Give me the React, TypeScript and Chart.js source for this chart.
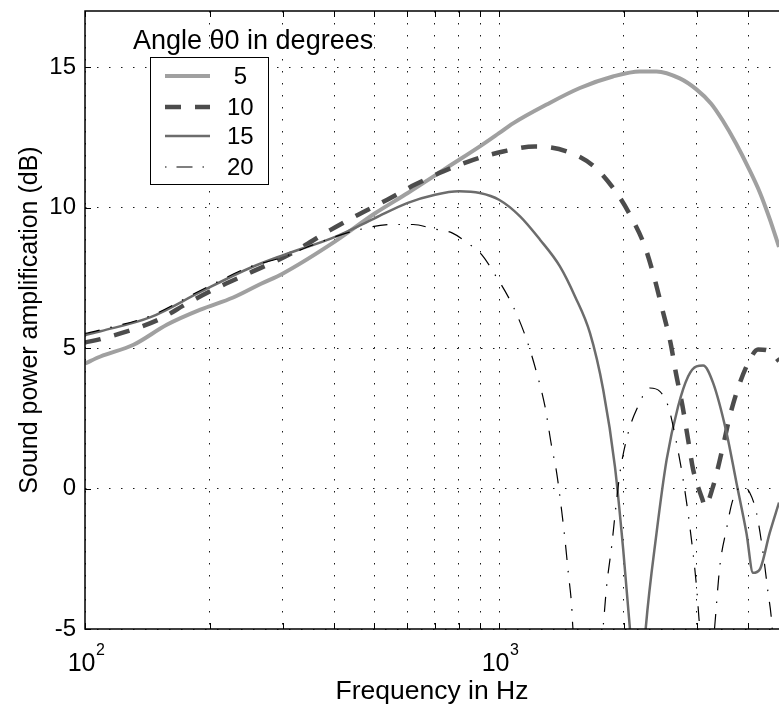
import { useEffect, useRef } from 'react';
import { Chart, registerables } from 'chart.js';

Chart.register(...registerables);

// ---- data ----
const freq5 = [100, 109, 131, 158, 190, 228, 267, 300, 402, 502, 602, 701, 748, 899, 1000, 1081, 1303, 1568, 1884, 2188, 2400, 2733, 3003, 3254, 3470, 3731, 4009, 4263, 4506, 4745];
const db5 = [4.45, 4.7, 5.12, 5.84, 6.37, 6.8, 7.3, 7.65, 8.8, 9.8, 10.52, 11.15, 11.42, 12.18, 12.65, 13.0, 13.67, 14.26, 14.67, 14.85, 14.85, 14.6, 14.2, 13.7, 13.1, 12.3, 11.4, 10.55, 9.6, 8.6];

const freq10 = [100, 109, 150, 177, 209, 251, 313, 391, 457, 537, 627, 733, 866, 1023, 1221, 1459, 1686, 1923, 2090, 2250, 2378, 2469, 2596, 2673, 2775, 2862, 2943, 3100, 3140, 3289, 3446, 3609, 3779, 4017, 4222, 4506, 4745];
const db10 = [5.2, 5.32, 6.0, 6.6, 7.15, 7.69, 8.35, 9.2, 9.75, 10.28, 10.82, 11.29, 11.7, 12.0, 12.18, 12.0, 11.5, 10.53, 9.64, 8.62, 7.44, 6.49, 5.18, 4.13, 2.93, 1.74, 0.68, -0.39, -0.63, 0.08, 1.27, 2.57, 3.58, 4.53, 4.95, 4.89, 4.53];

const freq15 = [100, 109, 144, 190, 251, 300, 402, 502, 602, 701, 801, 899, 1000, 1124, 1256, 1403, 1526, 1658, 1785, 1905, 1995, 2070, 2164, 2262, 2402, 2540, 2708, 2862, 2999, 3111, 3289, 3545, 3746, 3959, 4107, 4263, 4506, 4745];
const db15 = [5.46, 5.6, 6.1, 7.0, 7.86, 8.3, 8.96, 9.63, 10.17, 10.46, 10.58, 10.52, 10.28, 9.69, 8.86, 7.91, 6.84, 5.54, 3.52, 0.79, -2.17, -4.95, -9, -4.95, -1.57, 1.03, 2.93, 3.99, 4.35, 4.38, 3.76, 1.98, 0.2, -1.58, -3.0, -2.88, -1.58, -0.5];

const freq20 = [100, 109, 144, 190, 251, 296, 356, 454, 555, 620, 693, 770, 837, 908, 967, 1081, 1166, 1233, 1291, 1340, 1378, 1417, 1443, 1470, 1498, 1507, 1639, 1785, 1819, 1871, 1916, 1959, 2051, 2149, 2314, 2446, 2562, 2684, 2784, 2889, 2999, 3042, 3176, 3319, 3414, 3541, 3673, 3883, 4033, 4186, 4342, 4465, 4550, 4745];
const db20 = [5.52, 5.65, 6.15, 7.05, 7.9, 8.2, 8.68, 9.2, 9.4, 9.4, 9.25, 9.1, 8.75, 8.33, 7.73, 6.49, 5.3, 4.12, 2.93, 1.5, 0.56, -0.8, -1.81, -3.0, -4.19, -4.9, -10, -4.9, -3.48, -2.05, -0.63, 0.56, 1.98, 2.81, 3.58, 3.46, 2.93, 1.62, 0.32, -1.34, -3.48, -4.66, -8, -4.9, -2.77, -1.46, -0.39, 0.08, -0.15, -0.86, -2.29, -3.71, -4.66, -9];

const seriesNames = [' 5', '10', '15', '20'];
const seriesFreqs = [freq5, freq10, freq15, freq20];
const seriesValues = [db5, db10, db15, db20];

const xTickValues = [100, 200, 300, 400, 500, 600, 700, 800, 900, 1000, 2000, 3000, 4000];
const xLabelValues = [100, 1000];
const xLabelBase = ['10', '10'];
const xLabelExp = ['2', '3'];
const yTickValues = [-5, 0, 5, 10, 15];

const legendTitle = 'Angle θ0 in degrees';
const xTitle = 'Frequency in Hz';
const yTitle = 'Sound power amplification (dB)';

const X_MIN = 100;
const X_MAX = 4745;
const Y_MIN = -5;
const Y_MAX = 17;

// ---- styles ----
const FONT = "'Liberation Sans', Arial, Helvetica, sans-serif";
const styles = [
  { color: '#a0a0a0', width: 4, dash: [] as number[], legendDash: [] as number[] },
  { color: '#4c4c4c', width: 4.5, dash: [16, 14], legendDash: [16, 14] },
  { color: '#6c6c6c', width: 2.5, dash: [] as number[], legendDash: [] as number[] },
  { color: '#000000', width: 1.2, dash: [15, 11, 1.5, 11], legendDash: [1.5, 10, 16, 10] },
];

const framePlugin = {
  id: 'matlabFrame',
  afterDraw(chart: any) {
    const { ctx, chartArea: a } = chart;
    const xs = chart.scales.x;
    const ys = chart.scales.y;
    ctx.save();
    ctx.setLineDash([]);
    ctx.strokeStyle = '#000';
    ctx.lineWidth = 1.5;
    ctx.beginPath();
    ctx.moveTo(a.right + 2, a.top);
    ctx.lineTo(a.left, a.top);
    ctx.lineTo(a.left, a.bottom);
    ctx.lineTo(a.right + 2, a.bottom);
    ctx.stroke();
    ctx.lineWidth = 1;
    ctx.beginPath();
    for (const v of xTickValues) {
      const px = Math.round(xs.getPixelForValue(v)) + 0.5;
      ctx.moveTo(px, a.bottom);
      ctx.lineTo(px, a.bottom - 6);
      ctx.moveTo(px, a.top);
      ctx.lineTo(px, a.top + 6);
    }
    for (const v of yTickValues) {
      const py = Math.round(ys.getPixelForValue(v)) + 0.5;
      ctx.moveTo(a.left, py);
      ctx.lineTo(a.left + 6, py);
    }
    ctx.stroke();

    // x tick labels with superscript exponents
    ctx.fillStyle = '#000';
    ctx.textBaseline = 'alphabetic';
    ctx.textAlign = 'left';
    xLabelValues.forEach((v, i) => {
      const px = xs.getPixelForValue(v);
      ctx.font = `25px ${FONT}`;
      const wb = ctx.measureText(xLabelBase[i]).width;
      ctx.font = `16px ${FONT}`;
      const we = ctx.measureText(xLabelExp[i]).width;
      const x0 = px - (wb + we) / 2 + 1;
      ctx.font = `25px ${FONT}`;
      ctx.fillText(xLabelBase[i], x0, a.bottom + 42);
      ctx.font = `16px ${FONT}`;
      ctx.fillText(xLabelExp[i], x0 + wb + 0.5, a.bottom + 26);
    });
    ctx.restore();
  },
};

const legendPlugin = {
  id: 'matlabLegend',
  afterDraw(chart: any) {
    const ctx = chart.ctx;
    ctx.save();
    ctx.setLineDash([]);
    ctx.fillStyle = '#000';
    ctx.textBaseline = 'middle';
    ctx.textAlign = 'left';
    ctx.font = `27px ${FONT}`;
    ctx.fillText(legendTitle, 133, 42);
    ctx.fillStyle = '#fff';
    ctx.fillRect(150.5, 57.5, 118, 127);
    ctx.strokeStyle = '#000';
    ctx.lineWidth = 1;
    ctx.strokeRect(150.5, 57.5, 118, 127);
    const rows = [76, 107, 136, 167];
    ctx.font = `24px ${FONT}`;
    seriesNames.forEach((name, i) => {
      const s = styles[i];
      ctx.strokeStyle = s.color;
      ctx.lineWidth = s.width;
      ctx.setLineDash(s.legendDash);
      ctx.beginPath();
      ctx.moveTo(165, rows[i]);
      ctx.lineTo(210, rows[i]);
      ctx.stroke();
      ctx.setLineDash([]);
      ctx.fillStyle = '#000';
      ctx.fillText(name, 227, rows[i] + 1);
    });
    ctx.restore();
  },
};

export default function App() {
  const ref = useRef<HTMLCanvasElement | null>(null);

  useEffect(() => {
    if (!ref.current) return;
    const datasets = seriesNames.map((name, i) => ({
      label: name.trim(),
      data: seriesFreqs[i].map((f, j) => ({ x: f, y: seriesValues[i][j] })),
      borderColor: styles[i].color,
      borderWidth: styles[i].width,
      borderDash: styles[i].dash,
      pointRadius: 0,
      fill: false,
      cubicInterpolationMode: 'monotone' as const,
      clip: 0,
      order: 4 - i,
    }));

    const chart = new Chart(ref.current, {
      type: 'line',
      data: { datasets },
      options: {
        responsive: false,
        animation: false,
        devicePixelRatio: 1,
        parsing: false,
        layout: { padding: { top: 11, right: 0, left: 0, bottom: 0 } },
        plugins: { legend: { display: false }, tooltip: { enabled: false } },
        scales: {
          x: {
            type: 'logarithmic',
            min: X_MIN,
            max: X_MAX,
            afterBuildTicks: (s: any) => {
              s.ticks = xTickValues.map((v) => ({ value: v }));
            },
            afterFit: (s: any) => {
              s.height = 80;
              s.paddingLeft = 0;
              s.paddingRight = 0;
            },
            ticks: {
              autoSkip: false,
              maxRotation: 0,
              minRotation: 0,
              callback: () => '',
            },
            grid: { color: '#1a1a1a', lineWidth: 1, drawTicks: false },
            border: { display: false, dash: [1.5, 10.5] },
            title: {
              display: true,
              text: xTitle,
              color: '#000',
              font: { family: FONT, size: 26.5 },
              padding: { top: 0, bottom: 1 },
            },
          },
          y: {
            type: 'linear',
            min: Y_MIN,
            max: Y_MAX,
            afterBuildTicks: (s: any) => {
              s.ticks = yTickValues.map((v) => ({ value: v }));
            },
            afterFit: (s: any) => {
              s.width = 85;
              s.paddingTop = 0;
              s.paddingBottom = 0;
            },
            ticks: {
              padding: 9,
              color: '#000',
              font: { family: FONT, size: 24 },
              callback: (v: any) => String(v),
            },
            grid: { color: '#1a1a1a', lineWidth: 1, drawTicks: false },
            border: { display: false, dash: [1.5, 10.5] },
            title: {
              display: true,
              text: yTitle,
              color: '#000',
              font: { family: FONT, size: 25 },
              padding: { top: 15, bottom: 0 },
            },
          },
        },
      },
      plugins: [framePlugin, legendPlugin],
    });
    return () => chart.destroy();
  }, []);

  return (
    <div style={{ position: 'absolute', left: 0, top: 0, width: 779, height: 709, background: '#fff' }}>
      <canvas ref={ref} width={779} height={709} style={{ display: 'block', width: 779, height: 709 }} />
    </div>
  );
}
